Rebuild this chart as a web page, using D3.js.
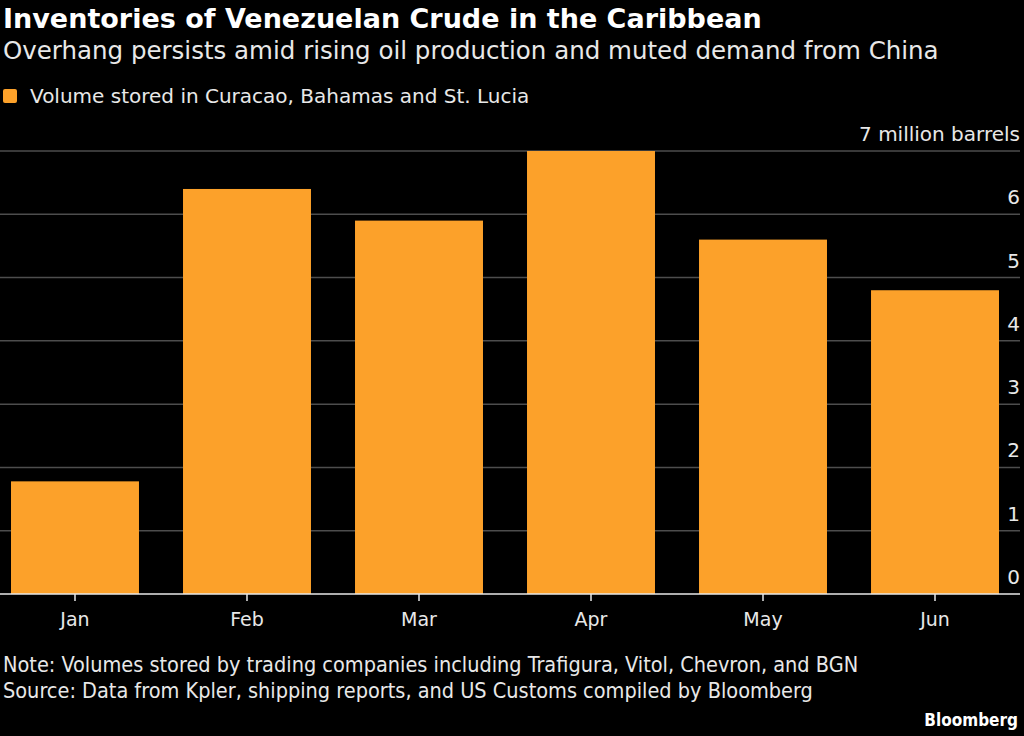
<!DOCTYPE html>
<html>
<head>
<meta charset="utf-8">
<script src="https://cdn.jsdelivr.net/npm/d3@7"></script>
<style>
  body { margin: 0; background: #000; }
  text { fill: #e8e8e8; }
</style>
</head>
<body>
<div id="chart"></div>
<script>
// chart data
var months = ["Jan", "Feb", "Mar", "Apr", "May", "Jun"];
var volumes = [1.78, 6.4, 5.9, 7.0, 5.6, 4.8];
var yTicks = [0, 1, 2, 3, 4, 5, 6, 7];

var svgWidth = 1024;
var svgHeight = 736;

var svg = d3.select("#chart")
  .append("svg")
  .attr("width", svgWidth)
  .attr("height", svgHeight)
  .style("background", "#000");

// plot area
var plotLeft = 0, plotRight = 1020, plotTop = 151, plotBottom = 594;

var x = d3.scaleBand()
  .domain(months)
  .range([0, 1010])
  .paddingInner(0.256)
  .paddingOuter(0.064);

var y = d3.scaleLinear()
  .domain([0, 7])
  .range([plotBottom, plotTop]);

// gridlines + right-hand labels
var grid = svg.append("g");
grid.selectAll("line")
  .data(yTicks.filter(d => d > 0))
  .enter()
  .append("line")
  .attr("x1", plotLeft)
  .attr("x2", plotRight)
  .attr("y1", d => y(d))
  .attr("y2", d => y(d))
  .attr("stroke", "#4d4d4d")
  .attr("stroke-width", 1.5);

grid.selectAll("text")
  .data(yTicks)
  .enter()
  .append("text")
  .attr("x", plotRight)
  .attr("y", d => y(d) - 10)
  .attr("text-anchor", "end")
  .style("font-family", "DejaVu Sans")
  .style("font-size", "20px")
  .text(d => d === 7 ? "7 million barrels" : d);

// bars
svg.append("g")
  .selectAll("rect")
  .data(volumes)
  .enter()
  .append("rect")
  .attr("x", (d, i) => x(months[i]))
  .attr("width", x.bandwidth())
  .attr("y", d => y(d))
  .attr("height", d => y(0) - y(d))
  .attr("fill", "#fca12a");

// baseline and x axis
var xAxis = d3.axisBottom(x).tickSize(7).tickSizeOuter(0).tickPadding(12);
var xAxisG = svg.append("g")
  .attr("transform", `translate(0, ${plotBottom})`)
  .call(xAxis);
xAxisG.select(".domain").remove();
xAxisG.selectAll(".tick line").attr("stroke", "#e8e8e8").attr("stroke-width", 1.5);
xAxisG.selectAll(".tick text")
  .attr("fill", "#e8e8e8")
  .style("font-family", "DejaVu Sans")
  .style("font-size", "19px");

svg.append("line")
  .attr("x1", plotLeft)
  .attr("x2", plotRight)
  .attr("y1", plotBottom)
  .attr("y2", plotBottom)
  .attr("stroke", "#e8e8e8")
  .attr("stroke-width", 1.5);

// titles
svg.append("text")
  .attr("x", 3)
  .attr("y", 28)
  .style("font-family", "DejaVu Sans")
  .style("font-weight", "bold")
  .style("font-size", "27px")
  .style("fill", "#fff")
  .text("Inventories of Venezuelan Crude in the Caribbean");

svg.append("text")
  .attr("x", 3)
  .attr("y", 59)
  .style("font-family", "DejaVu Sans")
  .style("font-size", "24.5px")
  .text("Overhang persists amid rising oil production and muted demand from China");

// legend
svg.append("rect")
  .attr("x", 3)
  .attr("y", 89)
  .attr("width", 14)
  .attr("height", 14)
  .attr("rx", 2)
  .attr("fill", "#fca12a");

svg.append("text")
  .attr("x", 30)
  .attr("y", 103)
  .style("font-family", "DejaVu Sans")
  .style("font-size", "20px")
  .text("Volume stored in Curacao, Bahamas and St. Lucia");

// footer
svg.append("text")
  .attr("x", 3)
  .attr("y", 672)
  .style("font-family", "Liberation Sans Narrow, DejaVu Sans Condensed")
  .style("font-size", "21.5px")
  .text("Note: Volumes stored by trading companies including Trafigura, Vitol, Chevron, and BGN");

svg.append("text")
  .attr("x", 3)
  .attr("y", 698)
  .style("font-family", "Liberation Sans Narrow, DejaVu Sans Condensed")
  .style("font-size", "21.5px")
  .text("Source: Data from Kpler, shipping reports, and US Customs compiled by Bloomberg");

svg.append("text")
  .attr("x", 1018)
  .attr("y", 726)
  .attr("text-anchor", "end")
  .style("font-family", "Liberation Sans Narrow, DejaVu Sans Condensed")
  .style("font-weight", "bold")
  .style("font-size", "17px")
  .style("fill", "#fff")
  .text("Bloomberg");
</script>
</body>
</html>
